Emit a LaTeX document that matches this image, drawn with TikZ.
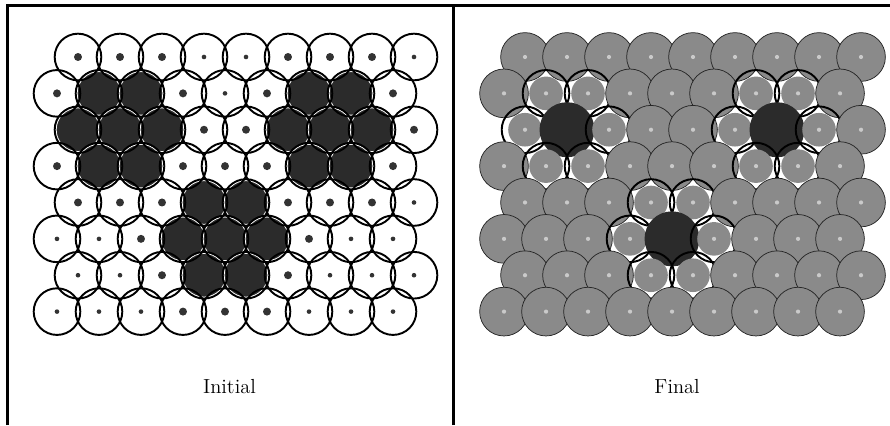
\documentclass[tikz,border=0pt]{standalone}
\usepackage{fontspec}
\usepackage{xcolor}
\usepackage{tikz}

\definecolor{graindark}{HTML}{2B2B2B}
\definecolor{grainfill}{HTML}{8A8A8A}
\definecolor{dotgray}{HTML}{333333}
\definecolor{spotgray}{HTML}{CACACA}

% grain kinds, row by row (B/s: large/small dot, D: dark grain;
% N: grain kept, R: shrunk neighbour, C: merged centre)
\newcommand\initialrows{0/{B,B,B,s,s,B,B,B,s},1/{B,D,D,B,s,B,D,D,B},2/{D,D,D,B,B,D,D,D,B},3/{B,D,D,B,B,B,D,D,B},4/{B,B,B,D,D,B,B,B,s},5/{s,s,B,D,D,D,B,s,s},6/{s,s,B,D,D,B,s,s,s},7/{s,s,s,B,B,B,s,s,s}}
\newcommand\finalrows{0/{N,N,N,N,N,N,N,N,N},1/{N,R,R,N,N,N,R,R,N},2/{R,C,R,N,N,R,C,R,N},3/{N,R,R,N,N,N,R,R,N},4/{N,N,N,R,R,N,N,N,N},5/{N,N,N,R,C,R,N,N,N},6/{N,N,N,R,R,N,N,N,N},7/{N,N,N,N,N,N,N,N,N}}

\begin{document}
\begin{tikzpicture}[line join=round,
    ring/.style={draw=black, line width=1.3pt},
    ini B/.style={fill=dotgray, radius=0.095},
    ini s/.style={fill=dotgray, radius=0.055},
    ini D/.style={fill=graindark, draw=white, line width=0.6pt, radius=0.52},
    grain N/.style={fill=grainfill, draw=black!85, line width=0.5pt, radius=0.58},
    grain R/.style={fill=grainfill, radius=0.40},
    grain C/.style={fill=graindark, radius=0.655},
    spot N/.style={fill=spotgray, radius=0.05},
    spot R/.style={fill=spotgray, radius=0.05},
    spot C/.style={},
    halo N/.style={},
    halo C/.style={},
    halo R/.style={ring, radius=0.555},
    caption/.style={font=\fontsize{13.8}{16}\selectfont\addfontfeatures{LetterSpace=4}}]
    \useasboundingbox (0,0) rectangle (21.19,10.119);

    % Frame
    \draw[line width=2pt, line join=miter] (0.174,0) -- (0.174,9.993) -- (21.19,9.993);
    \draw[line width=2pt] (10.79,0) -- (10.79,9.993);

    % Initial packing: dots and dark grains
    \foreach \r/\kinds in \initialrows {
        \foreach \k [count=\c from 0] in \kinds {
            \pgfmathsetmacro\x{1.357+\c+0.5*(1-mod(\r,2))}
            \pgfmathsetmacro\y{8.762-0.866*\r}
            \path[ini \k] (\x,\y) circle;
        }
    }

    % Initial packing: outlines
    \foreach \r in {0,...,7}{
        \foreach \c in {0,...,8}{
            \pgfmathsetmacro\x{1.357+\c+0.5*(1-mod(\r,2))}
            \pgfmathsetmacro\y{8.762-0.866*\r}
            \draw[ring] (\x,\y) circle[radius=0.555];
        }
    }

    % Final packing (shrunk neighbours keep their old outline)
    \begin{scope}[xshift=10.643cm]
        \foreach \r/\kinds in \finalrows {
            \foreach \k [count=\c from 0] in \kinds {
                \pgfmathsetmacro\x{1.357+\c+0.5*(1-mod(\r,2))}
                \pgfmathsetmacro\y{8.762-0.866*\r}
                \path[grain \k] (\x,\y) circle;
                \path[spot \k] (\x,\y) circle;
                \path[halo \k] (\x,\y) circle;
            }
        }
    \end{scope}

    % Captions
    \node[caption] (initlbl) at (5.464,0.905) {Initial};
    \node[caption] (finlbl) at (16.12,0.905) {Final};

\end{tikzpicture}
\end{document}
